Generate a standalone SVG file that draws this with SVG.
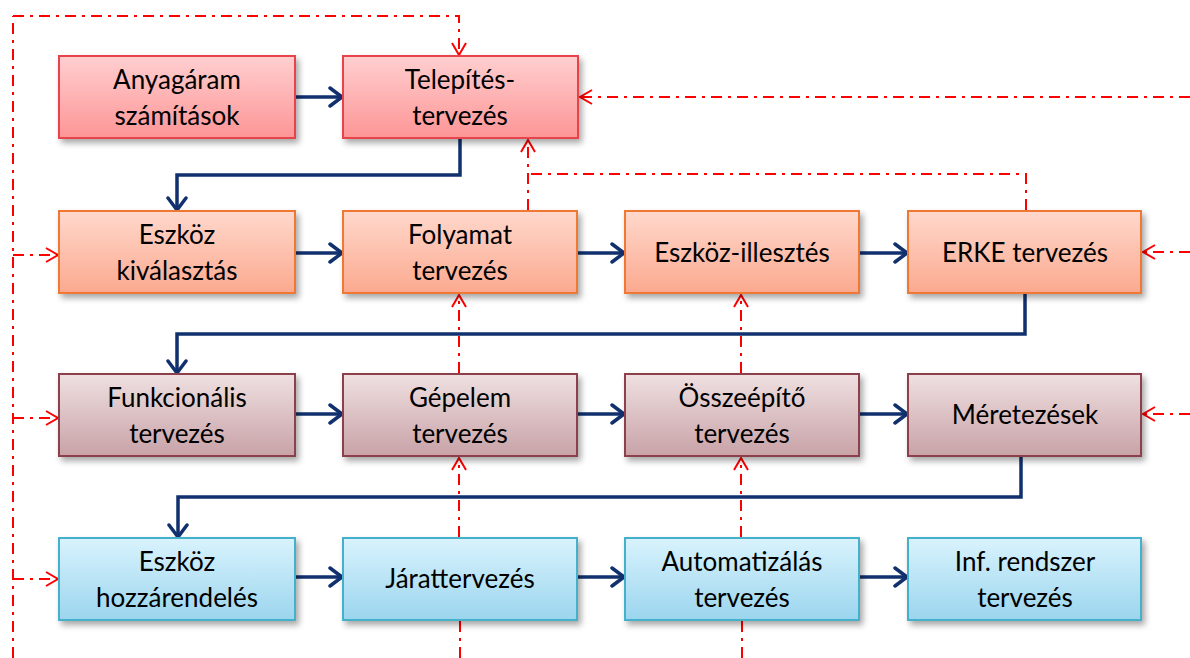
<svg xmlns="http://www.w3.org/2000/svg" width="1190" height="658" viewBox="0 0 1190 658">
  <defs>
    <linearGradient id="gRed" x1="0" y1="0" x2="0" y2="1">
      <stop offset="0" stop-color="#ffcfd0"/>
      <stop offset="1" stop-color="#fd9596"/>
    </linearGradient>
    <linearGradient id="gOrange" x1="0" y1="0" x2="0" y2="1">
      <stop offset="0" stop-color="#ffd8cc"/>
      <stop offset="1" stop-color="#fba98f"/>
    </linearGradient>
    <linearGradient id="gMauve" x1="0" y1="0" x2="0" y2="1">
      <stop offset="0" stop-color="#efe0e1"/>
      <stop offset="1" stop-color="#c8a2a7"/>
    </linearGradient>
    <linearGradient id="gBlue" x1="0" y1="0" x2="0" y2="1">
      <stop offset="0" stop-color="#d9f3fd"/>
      <stop offset="1" stop-color="#9bd5ee"/>
    </linearGradient>
    <filter id="shadow" x="-10%" y="-10%" width="125%" height="140%">
      <feDropShadow dx="3" dy="4" stdDeviation="3" flood-color="#000" flood-opacity="0.35"/>
    </filter>
    <marker id="arrowBlue" markerUnits="userSpaceOnUse" viewBox="-16 -12 18 24" refX="0" refY="0" markerWidth="18" markerHeight="24" orient="auto">
      <path d="M-12,-9 L0,0 L-12,9" fill="none" stroke="#10306e" stroke-width="3.5" stroke-linecap="round" stroke-linejoin="miter"/>
    </marker>
    <marker id="arrowRed" markerUnits="userSpaceOnUse" viewBox="-14 -10 16 20" refX="0" refY="0" markerWidth="16" markerHeight="20" orient="auto">
      <path d="M-12,-7 L0,0 L-12,7" fill="none" stroke="#ff0000" stroke-width="2"/>
    </marker>
  </defs>
  <style>
    .box { stroke-width: 2; filter: url(#shadow); }
    .red { fill: url(#gRed); stroke: #e8434c; }
    .orange { fill: url(#gOrange); stroke: #f07836; }
    .mauve { fill: url(#gMauve); stroke: #8c3f4c; }
    .blue { fill: url(#gBlue); stroke: #45b0c9; }
    .label { font-family: Lato, "Open Sans", sans-serif; font-size: 26px; fill: #000; text-anchor: middle; }
    .flow { fill: none; stroke: #10306e; stroke-width: 3.5; }
    .flow-arrow { marker-end: url(#arrowBlue); }
    .fb { fill: none; stroke: #ff0000; stroke-width: 2; stroke-dasharray: 11 6 3 6; }
    .fb-arrow { marker-end: url(#arrowRed); }
  </style>

  <!-- connectors -->
  <g id="connectors">
    <!-- main flow -->
    <line class="flow flow-arrow" x1="296" y1="97" x2="342" y2="97"/>
    <path class="flow flow-arrow" d="M460,139 V175 H177 V210"/>
    <line class="flow flow-arrow" x1="296" y1="253" x2="342" y2="253"/>
    <line class="flow flow-arrow" x1="578" y1="253" x2="624" y2="253"/>
    <line class="flow flow-arrow" x1="860" y1="253" x2="907" y2="253"/>
    <path class="flow flow-arrow" d="M1025,294 V334 H177 V373"/>
    <line class="flow flow-arrow" x1="296" y1="414" x2="342" y2="414"/>
    <line class="flow flow-arrow" x1="578" y1="414" x2="624" y2="414"/>
    <line class="flow flow-arrow" x1="860" y1="414" x2="907" y2="414"/>
    <path class="flow flow-arrow" d="M1021,457 V497 H178 V537"/>
    <line class="flow flow-arrow" x1="296" y1="577" x2="342" y2="577"/>
    <line class="flow flow-arrow" x1="578" y1="577" x2="624" y2="577"/>
    <line class="flow flow-arrow" x1="860" y1="577" x2="907" y2="577"/>

    <!-- feedback lines -->
    <path class="fb" d="M13,658 V16"/>
    <path class="fb fb-arrow" d="M13,16 H459 V55"/>
    <line class="fb fb-arrow" x1="13" y1="255" x2="58" y2="255"/>
    <line class="fb fb-arrow" x1="13" y1="418" x2="58" y2="418"/>
    <line class="fb fb-arrow" x1="13" y1="579" x2="58" y2="579"/>
    <line class="fb fb-arrow" x1="1190" y1="97" x2="580" y2="97"/>
    <line class="fb fb-arrow" x1="1190" y1="252" x2="1143" y2="252"/>
    <line class="fb fb-arrow" x1="1190" y1="414" x2="1143" y2="414"/>
    <path class="fb" d="M1026,210 V174 H528"/>
    <line class="fb fb-arrow" x1="528" y1="210" x2="528" y2="140"/>
    <line class="fb fb-arrow" x1="459" y1="373" x2="459" y2="295"/>
    <line class="fb fb-arrow" x1="741" y1="373" x2="741" y2="295"/>
    <line class="fb fb-arrow" x1="459" y1="537" x2="459" y2="458"/>
    <line class="fb fb-arrow" x1="741" y1="537" x2="741" y2="458"/>
    <line class="fb" x1="460" y1="621" x2="460" y2="658"/>
    <line class="fb" x1="742" y1="621" x2="742" y2="658"/>
  </g>

  <!-- row 1 -->
  <g id="anyagaram">
    <rect class="box red" x="59" y="56" width="236" height="82"/>
    <text class="label" x="177" y="89">Anyagáram</text>
    <text class="label" x="177" y="125">számítások</text>
  </g>
  <g id="telepites">
    <rect class="box red" x="343" y="56" width="235" height="82"/>
    <text class="label" x="460" y="89">Telepítés-</text>
    <text class="label" x="460" y="125">tervezés</text>
  </g>

  <!-- row 2 -->
  <g id="eszkoz-kivalasztas">
    <rect class="box orange" x="59" y="211" width="236" height="82"/>
    <text class="label" x="177" y="244">Eszköz</text>
    <text class="label" x="177" y="280">kiválasztás</text>
  </g>
  <g id="folyamat">
    <rect class="box orange" x="343" y="211" width="234" height="82"/>
    <text class="label" x="460" y="244">Folyamat</text>
    <text class="label" x="460" y="280">tervezés</text>
  </g>
  <g id="eszkoz-illesztes">
    <rect class="box orange" x="625" y="211" width="234" height="82"/>
    <text class="label" x="742" y="262">Eszköz-illesztés</text>
  </g>
  <g id="erke">
    <rect class="box orange" x="908" y="211" width="233" height="82"/>
    <text class="label" x="1025" y="262">ERKE tervezés</text>
  </g>

  <!-- row 3 -->
  <g id="funkcionalis">
    <rect class="box mauve" x="59" y="374" width="236" height="82"/>
    <text class="label" x="177" y="407">Funkcionális</text>
    <text class="label" x="177" y="443">tervezés</text>
  </g>
  <g id="gepelem">
    <rect class="box mauve" x="343" y="374" width="234" height="82"/>
    <text class="label" x="460" y="407">Gépelem</text>
    <text class="label" x="460" y="443">tervezés</text>
  </g>
  <g id="osszeepito">
    <rect class="box mauve" x="625" y="374" width="234" height="82"/>
    <text class="label" x="742" y="407">Összeépítő</text>
    <text class="label" x="742" y="443">tervezés</text>
  </g>
  <g id="meretezesek">
    <rect class="box mauve" x="908" y="374" width="233" height="82"/>
    <text class="label" x="1025" y="424">Méretezések</text>
  </g>

  <!-- row 4 -->
  <g id="eszkoz-hozzarendeles">
    <rect class="box blue" x="59" y="538" width="236" height="82"/>
    <text class="label" x="177" y="571">Eszköz</text>
    <text class="label" x="177" y="607">hozzárendelés</text>
  </g>
  <g id="jarattervezes">
    <rect class="box blue" x="343" y="538" width="234" height="82"/>
    <text class="label" x="460" y="588">Járattervezés</text>
  </g>
  <g id="automatizalas">
    <rect class="box blue" x="625" y="538" width="234" height="82"/>
    <text class="label" x="742" y="571">Automatizálás</text>
    <text class="label" x="742" y="607">tervezés</text>
  </g>
  <g id="inf-rendszer">
    <rect class="box blue" x="908" y="538" width="233" height="82"/>
    <text class="label" x="1025" y="571">Inf. rendszer</text>
    <text class="label" x="1025" y="607">tervezés</text>
  </g>
</svg>
